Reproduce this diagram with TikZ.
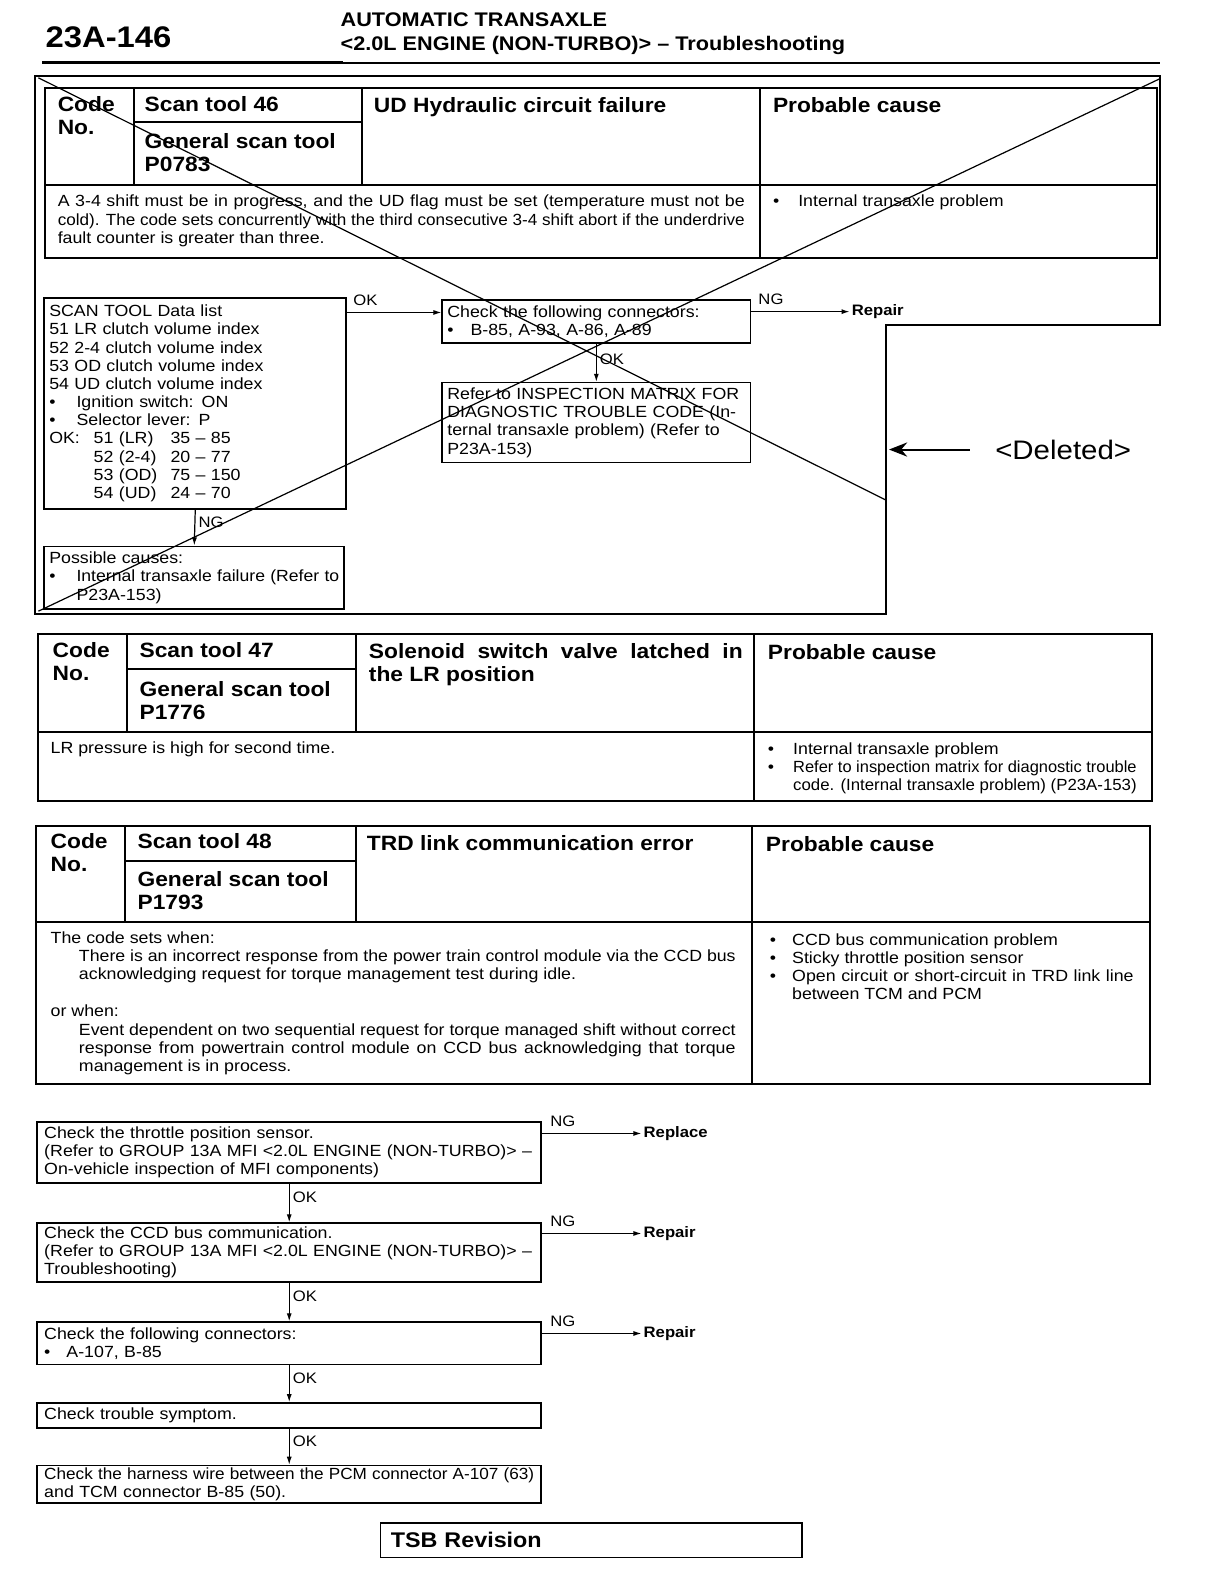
\documentclass[tikz,border=0pt]{standalone}
\usepackage{fontspec}
\setmainfont[FakeStretch=1.1]{Liberation Sans}
\usepackage{graphicx}
\usetikzlibrary{arrows.meta, positioning, calc}

\newcommand{\bodyf}{\fontsize{16}{18}\selectfont}
\newcommand{\headf}{\bfseries\fontsize{20.5}{23}\selectfont}
\newcommand{\labf}{\fontsize{15}{16}\selectfont}
\newcommand{\resf}{\bfseries\fontsize{15}{18}\selectfont}
\newcommand{\pagef}{\bfseries\fontsize{29.5}{32}\selectfont}
\newcommand{\titlef}{\bfseries\fontsize{19.5}{22}\selectfont}
\newcommand{\delf}{\fontsize{26.5}{30}\selectfont}
\newcommand{\tsbf}{\bfseries\fontsize{21}{24}\selectfont}
\newcommand{\bul}[1]{\makebox[#1][l]{\textbullet}}
% justified line: stretch the spaces, or squeeze the line if it is too long
\newlength\jlw
\newcommand{\jl}[2]{\settowidth{\jlw}{#2}\ifdim\jlw>#1\relax\resizebox{#1}{\height}{#2}\else\makebox[#1][s]{#2}\fi}

\begin{document}
\begin{tikzpicture}[x=1pt, y=-1pt,
    tbl/.style={line width=2pt},
    frame/.style={line width=1.8pt},
    cross/.style={line width=1.2pt},
    box/.style={draw, line width=1.6pt, anchor=north west, inner xsep=5pt, inner ysep=1pt, align=left, font=\bodyf},
    txt/.style={anchor=north west, inner sep=0pt, align=left, font=\bodyf},
    head/.style={anchor=north west, inner sep=0pt, align=left, font=\headf},
    lbl/.style={anchor=south west, inner sep=0pt, font=\labf},
    result/.style={anchor=west, inner sep=2pt, font=\resf},
    arrow/.style={-{Latex[length=8pt,width=5pt]}, line width=1.2pt}
]
\useasboundingbox (0,0) rectangle (1204,1568);
% Page header
\node[anchor=base west, inner sep=0pt, font=\pagef] (page) at (45,47) {23A-146};
\node[anchor=base west, inner sep=0pt, font=\titlef] (sect1) at (337,26) {AUTOMATIC TRANSAXLE};
\node[anchor=base west, inner sep=0pt, font=\titlef] (sect2) at (337,50) {<2.0L ENGINE (NON-TURBO)> -- Troubleshooting};
\draw[line width=3.5pt] (42,62) -- (340,62);
\draw[line width=2pt] (340,62) -- (1148,62);

% Code 46 (deleted block)
\draw[frame] (35,75) -- (1148,75) -- (1148,322) -- (877,322) -- (877,608) -- (35,608) -- cycle;
\draw[tbl] (45,87) rectangle (1145,255);
\draw[tbl] (45,183) -- (1145,183);
\draw[tbl] (133,87) -- (133,183);
\draw[tbl] (358,87) -- (358,183);
\draw[tbl] (752,87) -- (752,255);
\draw[tbl] (133,121) -- (358,121);
\node[head] (code1) at (57,95) {Code\\No.};
\node[head] (scan1) at (143,95) {Scan tool 46};
\node[head] (gen1) at (143,132) {General scan tool\\P0783};
\node[head] (title1) at (370,96) {UD Hydraulic circuit failure};
\node[head] (prob1) at (765,96) {Probable cause};
\node[txt] (cond1) at (57,193) {\jl{680pt}{A 3-4 shift must be in progress, and the UD flag must be set (temperature must not be}\\
  \jl{680pt}{cold). The code sets concurrently with the third consecutive 3-4 shift abort if the underdrive}\\
  fault counter is greater than three.};
\node[txt] (cause1) at (765,193) {\bul{25pt}Internal transaxle problem};

% Flow of code 46
\node[box, text width=289pt, minimum height=209pt] (scan) at (43,294) {SCAN TOOL Data list\\
  51 LR clutch volume index\\
  52 2-4 clutch volume index\\
  53 OD clutch volume index\\
  54 UD clutch volume index\\
  \bul{27pt}Ignition switch: ON\\
  \bul{27pt}Selector lever: P\\
  \makebox[44pt][l]{OK:}\makebox[76pt][l]{51 (LR)}35 -- 85\\
  \hspace*{44pt}\makebox[76pt][l]{52 (2-4)}20 -- 77\\
  \hspace*{44pt}\makebox[76pt][l]{53 (OD)}75 -- 150\\
  \hspace*{44pt}\makebox[76pt][l]{54 (UD)}24 -- 70};
\node[box, text width=295pt, minimum height=43pt] (chk) at (437,296) {Check the following connectors:\\
  \bul{23pt}B-85, A-93, A-86, A-89};
\node[box, text width=295pt, minimum height=79pt] (insp) at (437,378) {\jl{295pt}{Refer to INSPECTION MATRIX FOR}\\
  \jl{295pt}{DIAGNOSTIC TROUBLE CODE (In-}\\
  \jl{295pt}{ternal transaxle problem) (Refer to}\\
  P23A-153)};
\node[box, text width=287pt, minimum height=62pt] (poss) at (43,540) {Possible causes:\\
  \bul{27pt}\jl{260pt}{Internal transaxle failure (Refer to}\\
  \hspace*{27pt}P23A-153)};
\node[result] (rep1) at (841,308.5) {Repair};
\coordinate (okin) at ([yshift=9pt]chk.west);
\coordinate (okout) at (scan.east |- okin);
\coordinate (ngout) at (chk.east |- rep1.west);
\draw[arrow] (okout) -- (okin);
\draw[arrow] (ngout) -- (rep1.west);
\node[lbl] at ([xshift=6pt,yshift=7pt]okout) {OK};
\node[lbl] at ([xshift=7pt,yshift=7pt]ngout) {NG};
\draw[arrow] (chk.south) -- node[pos=0.4, right, inner sep=3pt, font=\labf] {OK} (insp.north);
\draw[arrow] (scan.south) -- node[pos=0.35, right, inner sep=3pt, font=\labf] {NG} (poss.north);

% Deleted mark
\node[anchor=west, inner sep=0pt, font=\delf] (del) at (985,445) {<Deleted>};
\coordinate (deltail) at ([xshift=-25pt]del.west);
\coordinate (gap) at (880,445);
\draw[line width=2pt, -{Stealth[length=18pt,width=14pt]}] (deltail) -- (gap);
\draw[cross] (38,77) -- (877,495);
\draw[cross] (1148,78) -- (38,605);

% Code 47
\draw[tbl] (38,628) rectangle (1140,793);
\draw[tbl] (38,725) -- (1140,725);
\draw[tbl] (126,628) -- (126,725);
\draw[tbl] (352,628) -- (352,725);
\draw[tbl] (746,628) -- (746,793);
\draw[tbl] (126,662) -- (352,662);
\node[head] (code2) at (52,636) {Code\\No.};
\node[head] (scan2) at (138,636) {Scan tool 47};
\node[head] (gen2) at (138,674) {General scan tool\\P1776};
\node[head] (title2) at (365,637) {\jl{370pt}{Solenoid switch valve latched in}\\the LR position};
\node[head] (prob2) at (760,638) {Probable cause};
\node[txt] (cond2) at (50,734) {LR pressure is high for second time.};
\node[txt] (cause2) at (760,735) {\bul{25pt}Internal transaxle problem\\
  \bul{25pt}\jl{340pt}{Refer to inspection matrix for diagnostic trouble}\\
  \hspace*{25pt}\jl{340pt}{code. (Internal transaxle problem) (P23A-153)}};

% Code 48
\draw[tbl] (36,818) rectangle (1138,1073);
\draw[tbl] (36,913) -- (1138,913);
\draw[tbl] (124,818) -- (124,913);
\draw[tbl] (352,818) -- (352,913);
\draw[tbl] (744,818) -- (744,1073);
\draw[tbl] (124,852) -- (352,852);
\node[head] (code3) at (50,825) {Code\\No.};
\node[head] (scan3) at (136,825) {Scan tool 48};
\node[head] (gen3) at (136,862) {General scan tool\\P1793};
\node[head] (title3) at (363,827) {TRD link communication error};
\node[head] (prob3) at (758,828) {Probable cause};
\node[txt] (when1) at (50,922) {The code sets when:};
\node[txt] (cond3a) at (78,940) {\jl{650pt}{There is an incorrect response from the power train control module via the CCD bus}\\
  acknowledging request for torque management test during idle.};
\node[txt] (when2) at (50,994) {or when:};
\node[txt] (cond3b) at (78,1013) {\jl{650pt}{Event dependent on two sequential request for torque managed shift without correct}\\
  \jl{650pt}{response from powertrain control module on CCD bus acknowledging that torque}\\
  management is in process.};
\node[txt] (cause3) at (762,924) {\bul{22pt}CCD bus communication problem\\
  \bul{22pt}Sticky throttle position sensor\\
  \bul{22pt}\jl{338pt}{Open circuit or short-circuit in TRD link line}\\
  \hspace*{22pt}between TCM and PCM};

% Flow of code 48
\tikzset{box/.append style={inner xsep=7pt, text width=485pt}}
\node[box, minimum height=60pt] (tps) at (36,1110) {Check the throttle position sensor.\\
  \jl{485pt}{(Refer to GROUP 13A MFI <2.0L ENGINE (NON-TURBO)> --}\\
  On-vehicle inspection of MFI components)};
\node[box, minimum height=58pt] (ccd) at (36,1210) {Check the CCD bus communication.\\
  \jl{485pt}{(Refer to GROUP 13A MFI <2.0L ENGINE (NON-TURBO)> --}\\
  Troubleshooting)};
\node[box, minimum height=42pt] (conn) at (36,1308) {Check the following connectors:\\
  \bul{22pt}A-107, B-85};
\node[box, minimum height=25pt] (symp) at (36,1388) {Check trouble symptom.};
\node[box, minimum height=37pt] (harn) at (36,1450) {\jl{485pt}{Check the harness wire between the PCM connector A-107 (63)}\\
  and TCM connector B-85 (50).};
\node[result] (repl) at (635,1122) {Replace};
\node[result] (rep2) at (635,1221) {Repair};
\node[result] (rep3) at (635,1320) {Repair};
\coordinate (ngA) at (tps.east |- repl.west);
\coordinate (ngB) at (ccd.east |- rep2.west);
\coordinate (ngC) at (conn.east |- rep3.west);
\draw[arrow] (ngA) -- (repl.west);
\draw[arrow] (ngB) -- (rep2.west);
\draw[arrow] (ngC) -- (rep3.west);
\node[lbl] at ([xshift=8pt,yshift=7pt]ngA) {NG};
\node[lbl] at ([xshift=8pt,yshift=7pt]ngB) {NG};
\node[lbl] at ([xshift=8pt,yshift=7pt]ngC) {NG};
\draw[arrow] (tps.south) -- node[pos=0.35, right, inner sep=3pt, font=\labf] {OK} (ccd.north);
\draw[arrow] (ccd.south) -- node[pos=0.35, right, inner sep=3pt, font=\labf] {OK} (conn.north);
\draw[arrow] (conn.south) -- node[pos=0.35, right, inner sep=3pt, font=\labf] {OK} (symp.north);
\draw[arrow] (symp.south) -- node[pos=0.35, right, inner sep=3pt, font=\labf] {OK} (harn.north);

% Revision stamp
\node[draw, line width=1.6pt, anchor=north west, minimum height=34pt, text width=397pt, inner xsep=10pt, align=left, font=\tsbf] (tsb) at (376,1507) {TSB Revision};
\end{tikzpicture}
\end{document}
